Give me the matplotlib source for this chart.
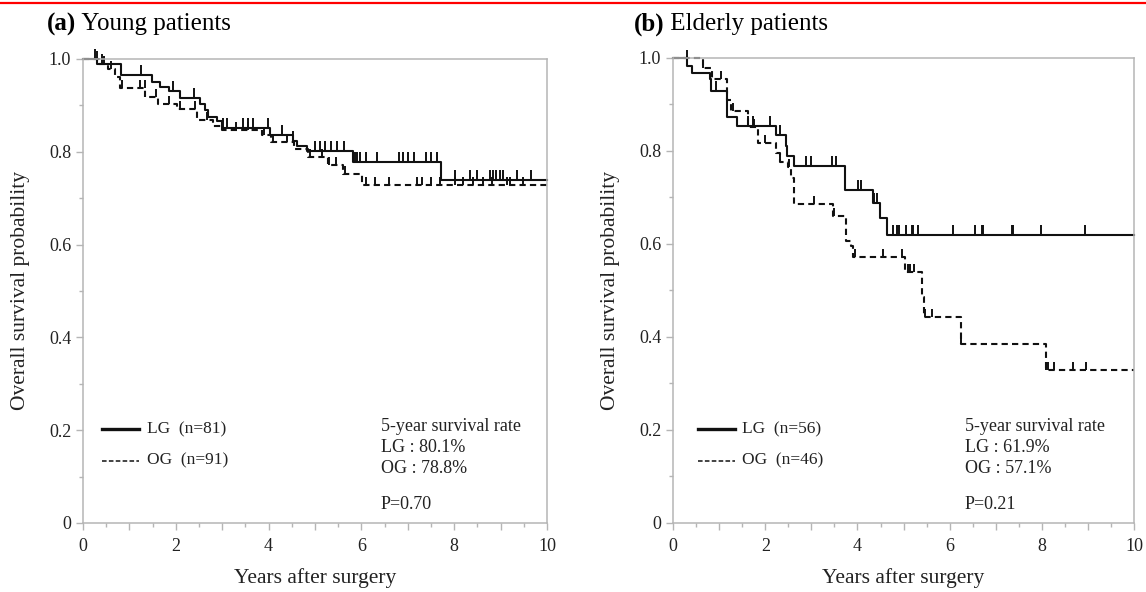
import numpy as np
import matplotlib.pyplot as plt
from matplotlib.lines import Line2D

plt.rcParams['font.family'] = ['Liberation Serif', 'DejaVu Serif']

# (a) young patients: drop times (years) and survival after each drop
young_lg_t = [0, 0.30, 0.81, 1.48, 1.66, 1.86, 2.09, 2.52, 2.63, 2.70, 2.88, 3.0, 4.04, 4.52, 4.61, 4.82, 5.82, 7.72]
young_lg_s = [1.0, 0.990, 0.966, 0.951, 0.940, 0.930, 0.915, 0.903, 0.890, 0.876, 0.866, 0.852, 0.836, 0.824, 0.812, 0.801, 0.779, 0.739]
young_lg_cens = [0.26, 0.40, 1.24, 1.95, 2.40, 3.01, 3.10, 3.45, 3.56, 3.67, 3.99, 4.30, 4.53,
                 5.00, 5.11, 5.22, 5.34, 5.47, 5.62, 5.86, 5.91, 5.97, 6.11, 6.34, 6.80, 6.90,
                 7.01, 7.13, 7.39, 7.51, 7.64, 8.02, 8.34, 8.50, 8.77, 8.84, 8.91, 8.99, 9.06,
                 9.35, 9.65]
young_og_t = [0, 0.35, 0.55, 0.70, 0.80, 1.34, 1.62, 2.02, 2.45, 2.81, 3.0, 3.85, 4.05, 4.55, 4.86, 5.29, 5.61, 6.02]
young_og_s = [1.0, 0.990, 0.978, 0.962, 0.937, 0.918, 0.902, 0.892, 0.869, 0.856, 0.847, 0.836, 0.820, 0.805, 0.788, 0.772, 0.752, 0.728]
young_og_cens = [0.30, 0.45, 0.60, 0.85, 1.23, 1.33, 1.58, 1.86, 2.09, 2.41, 2.68, 3.00, 3.30,
                 3.55, 3.90, 4.10, 4.40, 4.90, 5.15, 5.30, 5.45, 5.65, 6.11, 6.29, 6.60, 7.19,
                 7.30, 7.51, 7.69, 8.02, 8.20, 8.41, 8.63, 8.81, 9.13, 9.20, 9.48]

# (b) elderly patients
old_lg_t = [0, 0.30, 0.41, 0.80, 0.83, 1.17, 1.39, 2.24, 2.44, 2.48, 2.62, 3.73, 4.33, 4.49, 4.64]
old_lg_s = [1.0, 0.982, 0.967, 0.955, 0.929, 0.873, 0.853, 0.834, 0.810, 0.789, 0.767, 0.716, 0.688, 0.655, 0.619]
old_lg_cens = [0.30, 0.94, 1.62, 1.73, 2.10, 2.33, 2.89, 3.00, 3.44, 3.53, 4.02, 4.08, 4.36, 4.42,
               4.78, 4.85, 4.91, 5.05, 5.18, 5.21, 5.32, 6.07, 6.55, 6.70, 6.73, 7.35, 7.38,
               7.98, 8.94]
old_og_t = [0, 0.64, 0.85, 1.17, 1.25, 1.62, 1.84, 2.23, 2.33, 2.50, 2.55, 2.63, 3.46, 3.76, 3.85,
            3.91, 5.04, 5.40, 5.45, 6.24, 8.08]
old_og_s = [1.0, 0.978, 0.955, 0.910, 0.885, 0.852, 0.817, 0.795, 0.776, 0.765, 0.742, 0.687, 0.660,
            0.606, 0.595, 0.571, 0.540, 0.487, 0.442, 0.385, 0.330]
old_og_cens = [0.30, 0.64, 1.05, 1.30, 1.62, 1.75, 2.00, 2.33, 2.52, 3.05, 3.50, 3.95, 4.56, 4.96,
               5.10, 5.15, 5.22, 5.47, 5.62, 6.24, 8.10, 8.14, 8.27, 8.68, 8.95]

panels = [
    dict(tag='(a)', name=' Young patients', n=('81', '91'), rates=('80.1%', '78.8%'), p='0.70'),
    dict(tag='(b)', name=' Elderly patients', n=('56', '46'), rates=('61.9%', '57.1%'), p='0.21'),
]

grey = '#b5b5b5'
tick_mark = [(0, 0), (0, 1)]  # censor tick pointing up from the curve


def level_at(times, surv, t):
    idx = np.searchsorted(times, t, side='right') - 1
    return np.asarray(surv)[idx]


def km(ax, times, surv, cens, dashed):
    x = list(times) + [10]
    y = list(surv) + [surv[-1]]
    ls = (0, (3, 2)) if dashed else '-'
    ax.step(x, y, where='post', color='#111111', lw=1.5, linestyle=ls, clip_on=False)
    cy = level_at(times, surv, cens)
    ax.plot(cens, cy, linestyle='none', marker=tick_mark, markersize=14 if not dashed else 11,
            mec='#111111', mew=1.4, clip_on=False)


fig = plt.figure(figsize=(11.46, 5.92), dpi=100)
fig.add_artist(Line2D([0, 1], [0.9955, 0.9955], color='red', lw=1.6, transform=fig.transFigure))

axes = [fig.add_axes([0.0724, 0.1166, 0.4049, 0.7838]),
        fig.add_axes([0.5873, 0.1166, 0.4023, 0.7855])]
data = [(young_lg_t, young_lg_s, young_lg_cens, young_og_t, young_og_s, young_og_cens),
        (old_lg_t, old_lg_s, old_lg_cens, old_og_t, old_og_s, old_og_cens)]
title_x = [0.041, 0.553]
leg_x = [(0.40, 1.21, 1.38), (0.55, 1.35, 1.49)]
txt_x = [6.42, 6.33]

for i, ax in enumerate(axes):
    p = panels[i]
    lt, ls_, lc, ot, os_, oc = data[i]
    km(ax, ot, os_, oc, True)
    km(ax, lt, ls_, lc, False)

    ax.set_xlim(0, 10)
    ax.set_ylim(0, 1.0)
    ax.set_xticks(range(11))
    ax.set_xticklabels([str(v) if v % 2 == 0 else '' for v in range(11)])
    ax.set_xticks(np.arange(0.5, 10, 1), minor=True)
    ax.set_yticks([0, 0.2, 0.4, 0.6, 0.8, 1.0])
    ax.set_yticklabels(['0', '0.2', '0.4', '0.6', '0.8', '1.0'])
    ax.set_yticks([0.1, 0.3, 0.5, 0.7, 0.9], minor=True)
    ax.tick_params(which='major', length=5, width=1, color=grey, labelsize=13, labelcolor='#222222')
    ax.tick_params(axis='x', which='major', pad=6)
    ax.tick_params(which='minor', length=3, width=1, color=grey)
    for s in ax.spines.values():
        s.set_color(grey)
        s.set_linewidth(1.1)

    ax.set_xlabel('Years after surgery', fontsize=15.5, color='#222222')
    ax.xaxis.set_label_coords(0.5, -0.097)
    ax.set_ylabel('Overall survival probability', fontsize=15.5, color='#222222')
    ax.yaxis.set_label_coords(-0.115, 0.5)

    # legend drawn as in the original figure
    x0, x1, xt = leg_x[i]
    ax.plot([x0, x1], [0.202, 0.202], color='#111111', lw=2.4)
    ax.plot([x0, x1], [0.134, 0.134], color='#111111', lw=1.1, linestyle=(0, (3, 1.5)))
    ax.text(xt, 0.202, 'LG  (n=' + p['n'][0] + ')', fontsize=12.5, va='center', color='#222222')
    ax.text(xt, 0.134, 'OG  (n=' + p['n'][1] + ')', fontsize=12.5, va='center', color='#222222')

    tx = txt_x[i]
    ax.text(tx, 0.208, '5-year survival rate', fontsize=13, va='center', color='#222222')
    ax.text(tx, 0.163, 'LG : ' + p['rates'][0], fontsize=13, va='center', color='#222222')
    ax.text(tx, 0.118, 'OG : ' + p['rates'][1], fontsize=13, va='center', color='#222222')
    ax.text(tx, 0.040, 'P=' + p['p'], fontsize=13, va='center', color='#222222')

    t = fig.text(title_x[i], 0.949, p['tag'], fontsize=18, fontweight='bold', va='baseline')
    fig.canvas.draw()
    bb = t.get_window_extent().transformed(fig.transFigure.inverted())
    fig.text(bb.x1, 0.949, p['name'], fontsize=18, va='baseline')

fig.savefig('out.png', dpi=100)
